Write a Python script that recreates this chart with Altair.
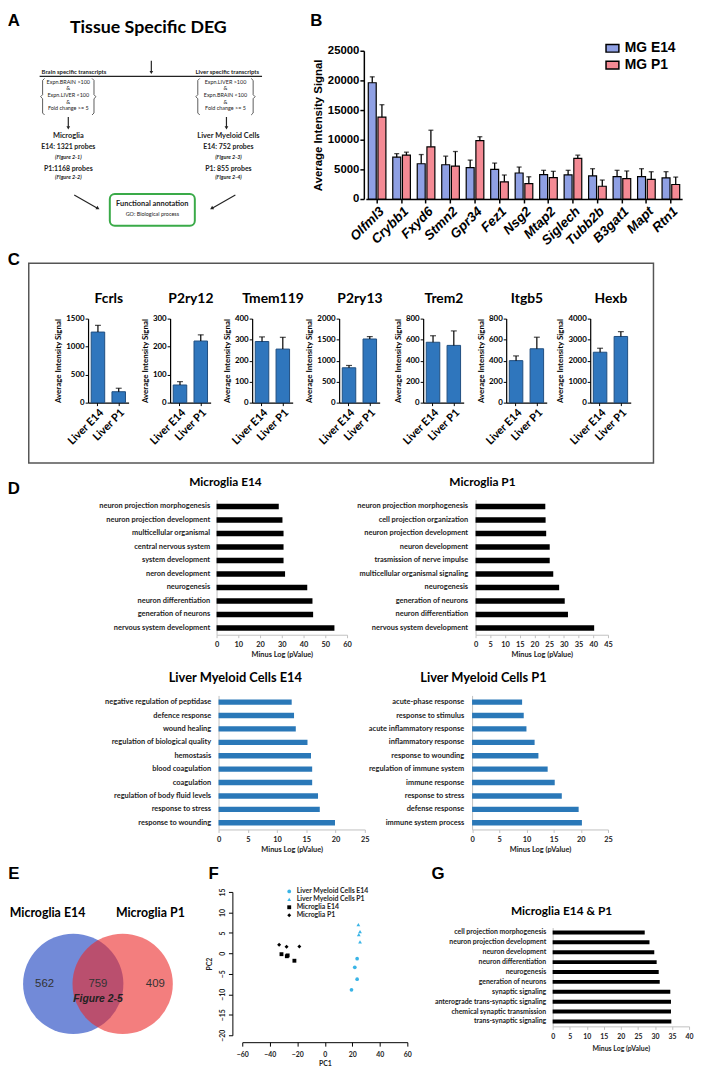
import altair as alt
import pandas as pd

# ------------------------------------------------------------------ data
flow_title = "Tissue Specific DEG"
brain_head = "Brain specific transcripts"
liver_head = "Liver specific transcripts"
brain_rules = ["Expn.BRAIN >100", "&", "Expn.LIVER <100", "&", "Fold change >= 5"]
liver_rules = ["Expn.LIVER >100", "&", "Expn.BRAIN <100", "&", "Fold change >= 5"]
mg_lines = ["Microglia", "E14: 1321 probes", "(Figure 2-1)", "P1:1168 probes", "(Figure 2-2)"]
lm_lines = ["Liver Myeloid Cells", "E14: 752 probes", "(Figure 2-3)", "P1: 855 probes", "(Figure 2-4)"]
fa_lines = ["Functional annotation", "GO: Biological process"]

b_genes = ["Olfml3", "Crybb1", "Fxyd6", "Stmn2", "Gpr34", "Fez1", "Nsg2", "Mtap2",
           "Siglech", "Tubb2b", "B3gat1", "Mapt", "Rtn1"]
b_groups = ["MG E14", "MG P1"]
b_e14 = [19600, 7050, 5950, 5780, 5280, 5000, 4390, 4110, 4060, 3890, 3780, 3780, 3560]
b_e14_err = [1000, 600, 1550, 1450, 1280, 1060, 1000, 730, 780, 1220, 1060, 1330, 1050]
b_p1 = [13800, 7400, 8800, 5560, 9840, 2900, 2600, 3610, 6840, 2150, 3450, 3300, 2450]
b_p1_err = [2100, 500, 2800, 2450, 660, 1150, 1150, 1060, 560, 1050, 1280, 1300, 1250]
b_yticks = [0, 5000, 10000, 15000, 20000, 25000]

c_genes = ["Fcrls", "P2ry12", "Tmem119", "P2ry13", "Trem2", "Itgb5", "Hexb"]
c_samples = ["Liver E14", "Liver P1"]
c_e14 = [1260, 63, 291, 830, 575, 400, 2400]
c_e14_err = [120, 12, 22, 55, 62, 45, 190]
c_p1 = [195, 220, 255, 1515, 545, 513, 3150]
c_p1_err = [62, 22, 56, 57, 138, 110, 230]
c_ymax = [1500, 300, 400, 2000, 800, 800, 4000]
c_ystep = [500, 100, 100, 500, 200, 200, 1000]

d1_title = "Microglia E14"
d1_terms = ["neuron projection morphogenesis", "neuron projection development",
            "multicellular organismal", "central nervous system", "system development",
            "neron development", "neurogenesis", "neuron differentiation",
            "generation of neurons", "nervous system development"]
d1_vals = [28.6, 30.3, 30.8, 30.8, 30.8, 31.5, 41.7, 44.1, 44.4, 54.2]

d2_title = "Microglia P1"
d2_terms = ["neuron projection morphogenesis", "cell projection organization",
            "neuron projection development", "neuron development",
            "trasmission of nerve impulse", "multicellular organismal signaling",
            "neurogenesis", "generation of neurons", "neuron differentiation",
            "nervous system development"]
d2_vals = [23.7, 23.8, 24.0, 25.2, 25.2, 26.4, 28.4, 30.3, 31.4, 40.3]

d3_title = "Liver Myeloid Cells E14"
d3_terms = ["negative regulation of peptidase", "defence response", "wound healing",
            "regulation of biological quality", "hemostasis", "blood coagulation",
            "coagulation", "regulation of body fluid levels", "response to stress",
            "response to wounding"]
d3_vals = [12.5, 12.9, 13.2, 15.2, 15.8, 16.0, 16.0, 17.0, 17.3, 19.9]

d4_title = "Liver Myeloid Cells P1"
d4_terms = ["acute-phase response", "response to stimulus", "acute inflammatory response",
            "inflammatory response", "response to wounding", "regulation of immune system",
            "immune response", "response to stress", "defense response",
            "immune system process"]
d4_vals = [9.2, 9.5, 10.0, 11.5, 12.2, 13.9, 15.2, 16.5, 19.6, 20.2]

venn_sets = ["Microglia E14", "Microglia P1"]
venn_counts = ["562", "759", "409"]
venn_note = "Figure 2-5"

f_groups = ["Liver Myeloid Cells E14", "Liver Myeloid Cells P1", "Microglia E14", "Microglia P1"]
f_le14_pc1 = [23.5, 21.8, 23.5, 19.4]
f_le14_pc2 = [-1.3, -3.4, -6.3, -8.9]
f_lp1_pc1 = [24.4, 25.6, 24.7, 25.6]
f_lp1_pc2 = [7.0, 5.3, 4.6, 2.8]
f_me14_pc1 = [-31.5, -27.6, -27.0, -22.1]
f_me14_pc2 = [-0.2, -0.7, -0.5, -1.8]
f_mp1_pc1 = [-33.2, -27.8, -18.5]
f_mp1_pc2 = [2.1, 1.6, 1.7]

g_title = "Microglia E14 & P1"
g_terms = ["cell projection morphogenesis", "neuron projection development",
           "neuron development", "neuron differentiation", "neurogenesis",
           "generation of neurons", "synaptic signaling",
           "anterograde trans-synaptic signaling", "chemical synaptic transmission",
           "trans-synaptic signaling"]
g_vals = [27.0, 28.4, 29.8, 30.5, 31.1, 31.4, 34.5, 34.7, 34.7, 34.8]

# ------------------------------------------------------------------ layout helpers
W, H = 694, 1071
M = 8  # page margin: reference pixel -> chart pixel


def X(v):
    return v - M


def Y(v):
    return v - M


def loff(xref):  # left axis placed at reference x
    return -(xref - M)


def boff(yref):  # bottom axis placed at reference y
    return (yref - M) - H


CAL = "Lato"
ARI = "Liberation Sans"
CX = alt.Scale(domain=[0, 1000], range=[-M, 1000 - M])
CY = alt.Scale(domain=[0, 2000], range=[-M, 2000 - M])

layers = []


def texts(items, size, weight="normal", style="normal", font=CAL, align="center",
          color="black", baseline="middle"):
    df = pd.DataFrame(items, columns=["t", "x", "y"])
    return alt.Chart(df).mark_text(fontSize=size, fontWeight=weight, fontStyle=style,
                                   font=font, align=align, baseline=baseline,
                                   color=color).encode(
        x=alt.X("x:Q", scale=CX, axis=None),
        y=alt.Y("y:Q", scale=CY, axis=None),
        text="t:N")


# ------------------------------------------------------------------ panel letters
layers.append(texts([("A", 14, 15), ("B", 320, 15), ("C", 14, 257), ("D", 14, 488),
                     ("E", 14, 878), ("F", 216, 878), ("G", 443, 878)],
                    17, weight="bold", font=ARI))

# ------------------------------------------------------------------ panel A (flow chart)
layers.append(texts([(flow_title, 150, 22)], 18, weight="bold"))
layers.append(texts([(brain_head, 42, 67)], 6, weight="bold", align="left", color="#222"))
layers.append(texts([(liver_head, 262, 67)], 6, weight="bold", align="right", color="#222"))
rule_y = [77, 83, 90, 96.5, 103]
layers.append(texts([(t, 69, y) for t, y in zip(brain_rules, rule_y)] +
                    [(t, 228, y) for t, y in zip(liver_rules, rule_y)], 5.5, color="#222"))
info_y = [131, 142, 153, 165, 173]
for k in range(5):
    if k == 0:
        sz, wt, st = 7.5, "bold", "normal"
    elif k in (1, 3):
        sz, wt, st = 7, "bold", "normal"
    else:
        sz, wt, st = 5.5, "bold", "italic"
    layers.append(texts([(mg_lines[k], 69, info_y[k]), (lm_lines[k], 231, info_y[k])],
                        sz, weight=wt, style=st, color="#222"))
layers.append(texts([(fa_lines[0], 154, 200)], 7.5, weight="bold", color="#222"))
layers.append(texts([(fa_lines[1], 154, 210)], 5.5, color="#222"))

seg = pd.DataFrame([(40, 71, 265, 71), (153, 55, 153, 66), (69, 112, 69, 122),
                    (229, 112, 229, 122), (75, 191, 98, 204), (238, 191, 215, 204)],
                   columns=["x1", "y1", "x2", "y2"])
layers.append(alt.Chart(seg).mark_rule(color="#222", strokeWidth=1.2).encode(
    x=alt.X("x1:Q", scale=CX, axis=None), y=alt.Y("y1:Q", scale=CY, axis=None),
    x2="x2:Q", y2="y2:Q"))
heads_down = pd.DataFrame({"x": [153, 69, 229], "y": [67, 123, 123]})
layers.append(alt.Chart(heads_down).mark_point(shape="triangle-down", filled=True, size=14,
                                               color="#222", opacity=1).encode(
    x=alt.X("x:Q", scale=CX, axis=None), y=alt.Y("y:Q", scale=CY, axis=None)))
layers.append(alt.Chart(pd.DataFrame({"x": [99], "y": [204.5]})).mark_point(
    shape="triangle-right", angle=29, filled=True, size=16, color="#222", opacity=1).encode(
    x=alt.X("x:Q", scale=CX, axis=None), y=alt.Y("y:Q", scale=CY, axis=None)))
layers.append(alt.Chart(pd.DataFrame({"x": [214], "y": [204.5]})).mark_point(
    shape="triangle-left", angle=331, filled=True, size=16, color="#222", opacity=1).encode(
    x=alt.X("x:Q", scale=CX, axis=None), y=alt.Y("y:Q", scale=CY, axis=None)))

brace_rows = []
for bid, (x0, d) in enumerate([(42, 1), (96, -1), (199, 1), (257, -1)]):
    t, b = 73.0, 110.0
    m = (t + b) / 2
    pts = [(x0 + 3 * d, t), (x0 + 1 * d, t + 2), (x0 + 1 * d, m - 2), (x0 - 1 * d, m),
           (x0 + 1 * d, m + 2), (x0 + 1 * d, b - 2), (x0 + 3 * d, b)]
    for o, (px_, py_) in enumerate(pts):
        brace_rows.append({"id": bid, "o": o, "x": px_, "y": py_})
layers.append(alt.Chart(pd.DataFrame(brace_rows)).mark_line(color="#333", strokeWidth=0.8).encode(
    x=alt.X("x:Q", scale=CX, axis=None), y=alt.Y("y:Q", scale=CY, axis=None),
    detail="id:N", order="o:Q"))
layers.append(alt.Chart(pd.DataFrame({"x": [111], "x2": [197], "y": [190], "y2": [222]})).mark_rect(
    fillOpacity=0, stroke="#3aaa48", strokeWidth=2, cornerRadius=5).encode(
    x=alt.X("x:Q", scale=CX, axis=None), x2="x2:Q",
    y=alt.Y("y:Q", scale=CY, axis=None), y2="y2:Q"))

# ------------------------------------------------------------------ panel B
dfB = pd.DataFrame({"gene": b_genes * 2,
                    "grp": [b_groups[0]] * len(b_genes) + [b_groups[1]] * len(b_genes),
                    "val": b_e14 + b_p1, "err": b_e14_err + b_p1_err})
dfB["hi"] = dfB["val"] + dfB["err"]
bx = alt.X("gene:N", sort=b_genes,
           scale=alt.Scale(range=[X(370), X(690)], paddingInner=0.28, paddingOuter=0.1),
           axis=alt.Axis(orient="bottom", offset=boff(195), title=None, labelAngle=-45,
                         labelFont=ARI, labelFontSize=13.5, labelFontWeight="bold",
                         labelFontStyle="italic", labelColor="black", domainColor="black",
                         domainWidth=1.5, tickColor="black", tickWidth=1.5, tickSize=4,
                         labelPadding=1, grid=False))
bscale = alt.Scale(domain=[0, 25000], range=[Y(195), Y(45)], nice=False)
baxis = alt.Axis(orient="left", offset=loff(368), values=b_yticks, format="d",
                 title="Average Intensity Signal", titleFont=ARI, titleFontSize=11.5,
                 titleFontWeight="bold", titleColor="black", titlePadding=4,
                 labelFont=ARI, labelFontSize=11.5, labelFontWeight="bold",
                 labelColor="black", labelPadding=1, domainColor="black", domainWidth=1.5,
                 tickColor="black", tickWidth=1.5, tickSize=4, grid=False)
bxo = alt.XOffset("grp:N", sort=b_groups, scale=alt.Scale(paddingInner=0.18))
bcolor = alt.Color("grp:N", scale=alt.Scale(domain=b_groups, range=["#8fa0e4", "#f48a94"]),
                   legend=alt.Legend(orient="none", legendX=X(612), legendY=Y(35), title=None,
                                     labelFont=ARI, labelFontSize=14, labelFontWeight="bold",
                                     labelColor="black", symbolType="M-1,-0.6H1V0.6H-1Z",
                                     symbolSize=169, symbolStrokeColor="black",
                                     symbolStrokeWidth=1.5, rowPadding=2, padding=0,
                                     labelOffset=5))
b_bars = alt.Chart(dfB).mark_bar(stroke="black", strokeWidth=1.2).encode(
    x=bx, xOffset=bxo, y=alt.Y("val:Q", scale=bscale, axis=baxis), color=bcolor)
b_err = alt.Chart(dfB).mark_rule(color="black", strokeWidth=1.3).encode(
    x=bx, xOffset=bxo, y=alt.Y("val:Q", scale=bscale, axis=baxis), y2="hi:Q")
b_cap = alt.Chart(dfB).mark_tick(color="black", thickness=1.3, size=5).encode(
    x=bx, xOffset=bxo, y=alt.Y("hi:Q", scale=bscale, axis=baxis))
layers.append(alt.layer(b_bars, b_err, b_cap))

# ------------------------------------------------------------------ panel C
layers.append(alt.Chart(pd.DataFrame({"x": [29], "x2": [661], "y": [260], "y2": [462]})).mark_rect(
    fillOpacity=0, stroke="#555555", strokeWidth=1.5).encode(
    x=alt.X("x:Q", scale=CX, axis=None), x2="x2:Q",
    y=alt.Y("y:Q", scale=CY, axis=None), y2="y2:Q"))
c_axis_x = [89, 172, 255, 343, 428, 512, 597]
layers.append(texts([(g, a + 21, 296) for g, a in zip(c_genes, c_axis_x)], 14, weight="bold"))
for i, g in enumerate(c_genes):
    a = c_axis_x[i]
    dfc = pd.DataFrame({"s": c_samples, "v": [c_e14[i], c_p1[i]],
                        "e": [c_e14_err[i], c_p1_err[i]]})
    dfc["hi"] = dfc["v"] + dfc["e"]
    cx = alt.X("s:N", sort=c_samples,
               scale=alt.Scale(range=[X(a), X(a + 41)], paddingInner=0.35, paddingOuter=0.15),
               axis=alt.Axis(orient="bottom", offset=boff(401), title=None, labelAngle=-45,
                             labelFont=CAL, labelFontSize=11, labelFontWeight="bold",
                             labelColor="black", domainColor="black", domainWidth=1.2,
                             tickColor="black", tickSize=3, labelPadding=1, grid=False))
    cscale = alt.Scale(domain=[0, c_ymax[i]], range=[Y(401), Y(316)], nice=False)
    caxis = alt.Axis(orient="left", offset=loff(a), format="d",
                     values=list(range(0, c_ymax[i] + 1, c_ystep[i])),
                     title="Average Intensity Signal", titleFont=CAL, titleFontSize=8,
                     titleFontWeight="bold", titleColor="black", titlePadding=3,
                     labelFont=CAL, labelFontSize=8, labelFontWeight="bold",
                     labelColor="black", labelPadding=1, domainColor="black",
                     domainWidth=1.2, tickColor="black", tickSize=3, grid=False)
    c_bars = alt.Chart(dfc).mark_bar(color="#2f76bd", stroke="#1f4e80", strokeWidth=1).encode(
        x=cx, y=alt.Y("v:Q", scale=cscale, axis=caxis))
    c_err = alt.Chart(dfc).mark_rule(color="black", strokeWidth=1.2).encode(
        x=cx, y=alt.Y("v:Q", scale=cscale, axis=caxis), y2="hi:Q")
    c_cap = alt.Chart(dfc).mark_tick(color="black", thickness=1.2, size=6).encode(
        x=cx, y=alt.Y("hi:Q", scale=cscale, axis=caxis))
    layers.append(alt.layer(c_bars, c_err, c_cap))


# ------------------------------------------------------------------ panels D and G
def hbar(terms, vals, color, x0, x1, dmax, tstep, ytop, ybot, label_end,
         lab_size=7.5, title_pad=3):
    df = pd.DataFrame({"term": terms, "v": vals})
    return alt.Chart(df).mark_bar(color=color).encode(
        y=alt.Y("term:N", sort=terms,
                scale=alt.Scale(range=[Y(ytop), Y(ybot)], paddingInner=0.6, paddingOuter=0.3),
                axis=alt.Axis(orient="left", offset=loff(x0), title=None, labelFont=CAL,
                              labelFontSize=lab_size, labelFontWeight="bold",
                              labelColor="#222", labelPadding=x0 - label_end, ticks=False,
                              domainColor="#c0c0c0", labelLimit=400, grid=False)),
        x=alt.X("v:Q", scale=alt.Scale(domain=[0, dmax], range=[X(x0), X(x1)], nice=False),
                axis=alt.Axis(orient="bottom", offset=boff(ybot),
                              values=list(range(0, dmax + 1, tstep)),
                              title="Minus Log (pValue)", titleFont=CAL,
                              titleFontSize=lab_size, titleFontWeight="bold",
                              titleColor="#222", titlePadding=title_pad, labelFont=CAL,
                              labelFontSize=lab_size, labelFontWeight="bold",
                              labelColor="#222", labelPadding=3, labelFlush=False,
                              labelOverlap=False, domainColor="#c0c0c0", tickColor="#c0c0c0",
                              tickSize=3, grid=False)))


layers.append(texts([(d1_title, 228, 481), (d2_title, 488, 481)], 12, weight="bold"))
layers.append(texts([(d3_title, 238, 680), (d4_title, 489, 680)], 13, weight="bold"))
layers.append(hbar(d1_terms, d1_vals, "black", 219, 351, 60, 10, 499.2, 635.8, 212))
layers.append(hbar(d2_terms, d2_vals, "black", 481, 615, 45, 5, 499.2, 635.8, 473))
layers.append(hbar(d3_terms, d3_vals, "#2a78b8", 221, 369, 25, 5, 697.2, 832.8, 213))
layers.append(hbar(d4_terms, d4_vals, "#2a78b8", 477.5, 615, 25, 5, 697.2, 832.8, 469))
layers.append(texts([(g_title, 568, 915)], 12, weight="bold"))
layers.append(hbar(g_terms, g_vals, "black", 559, 697, 40, 5, 932, 1032, 552,
                   lab_size=7, title_pad=5))

# ------------------------------------------------------------------ panel E (Venn)
layers.append(alt.Chart(pd.DataFrame({"x": [74], "y": [989]})).mark_circle(
    size=10300, color="#143cbe", opacity=0.6).encode(
    x=alt.X("x:Q", scale=CX, axis=None), y=alt.Y("y:Q", scale=CY, axis=None)))
layers.append(alt.Chart(pd.DataFrame({"x": [124], "y": [989]})).mark_circle(
    size=10300, color="#eb2828", opacity=0.6).encode(
    x=alt.X("x:Q", scale=CX, axis=None), y=alt.Y("y:Q", scale=CY, axis=None)))
layers.append(texts([(venn_sets[0], 48, 917), (venn_sets[1], 152, 917)], 12.5, weight="bold"))
layers.append(texts([(venn_counts[0], 45, 989), (venn_counts[1], 99, 989),
                     (venn_counts[2], 157, 989)], 11.5, font=ARI, color="#333"))
layers.append(texts([(venn_note, 99, 1004)], 10.5, weight="bold", style="italic", font=ARI,
                    color="#222"))

# ------------------------------------------------------------------ panel F (PCA)
dfF = pd.DataFrame({
    "PC1": f_le14_pc1 + f_lp1_pc1 + f_me14_pc1 + f_mp1_pc1,
    "PC2": f_le14_pc2 + f_lp1_pc2 + f_me14_pc2 + f_mp1_pc2,
    "grp": [f_groups[0]] * len(f_le14_pc1) + [f_groups[1]] * len(f_lp1_pc1) +
           [f_groups[2]] * len(f_me14_pc1) + [f_groups[3]] * len(f_mp1_pc1)})
f_leg = alt.Legend(orient="none", legendX=X(289), legendY=Y(892), title=None,
                   labelFont=CAL, labelFontSize=7, labelFontWeight="bold",
                   labelColor="#222", symbolSize=14, rowPadding=0, padding=0,
                   labelOffset=4)
layers.append(alt.Chart(dfF).mark_point(filled=True, opacity=1).encode(
    x=alt.X("PC1:Q", scale=alt.Scale(domain=[-60, 60], range=[X(245), X(412)], nice=False),
            axis=alt.Axis(orient="bottom", offset=boff(1048), values=[-60, -40, -20, 0, 20, 40, 60],
                          title="PC1", titleFont=CAL, titleFontSize=7, titleFontWeight="bold",
                          titleColor="#222", titlePadding=3, labelFont=CAL, labelFontSize=7,
                          labelFontWeight="bold", labelColor="#222", labelPadding=4,
                          labelFlush=False, labelOverlap=False, domainColor="black",
                          tickColor="black", tickSize=4, grid=False)),
    y=alt.Y("PC2:Q", scale=alt.Scale(domain=[-20, 15], range=[Y(1041), Y(896)], nice=False,
                                     zero=False),
            axis=alt.Axis(orient="left", offset=loff(235), values=[-20, -15, -10, -5, 0, 5, 10, 15],
                          title="PC2", titleFont=CAL, titleFontSize=7, titleFontWeight="bold",
                          titleColor="#222", titlePadding=6, labelFont=CAL, labelFontSize=7,
                          labelFontWeight="bold", labelColor="#222", labelPadding=3,
                          labelAngle=270, labelAlign="center", labelBaseline="bottom",
                          labelFlush=False, labelOverlap=False, domainColor="black",
                          tickColor="black", tickSize=4, grid=False)),
    color=alt.Color("grp:N", scale=alt.Scale(domain=f_groups,
                                             range=["#3ab4e6", "#3ab4e6", "black", "black"]),
                    legend=f_leg),
    shape=alt.Shape("grp:N", scale=alt.Scale(domain=f_groups,
                                             range=["circle", "triangle-up", "square", "diamond"]),
                    legend=f_leg),
    size=alt.Size("grp:N", scale=alt.Scale(domain=f_groups, range=[14, 16, 16, 8]), legend=None)))

# ------------------------------------------------------------------ assemble
chart = alt.layer(*layers).resolve_scale(
    x="independent", y="independent", color="independent", shape="independent",
    size="independent").resolve_axis(x="independent", y="independent").resolve_legend(
    color="independent", shape="independent", size="independent").properties(
    width=W, height=H, padding=0, autosize="none", background="white").configure_view(stroke=None)

chart.save("out.html", embed_options={"renderer": "svg", "actions": False})
